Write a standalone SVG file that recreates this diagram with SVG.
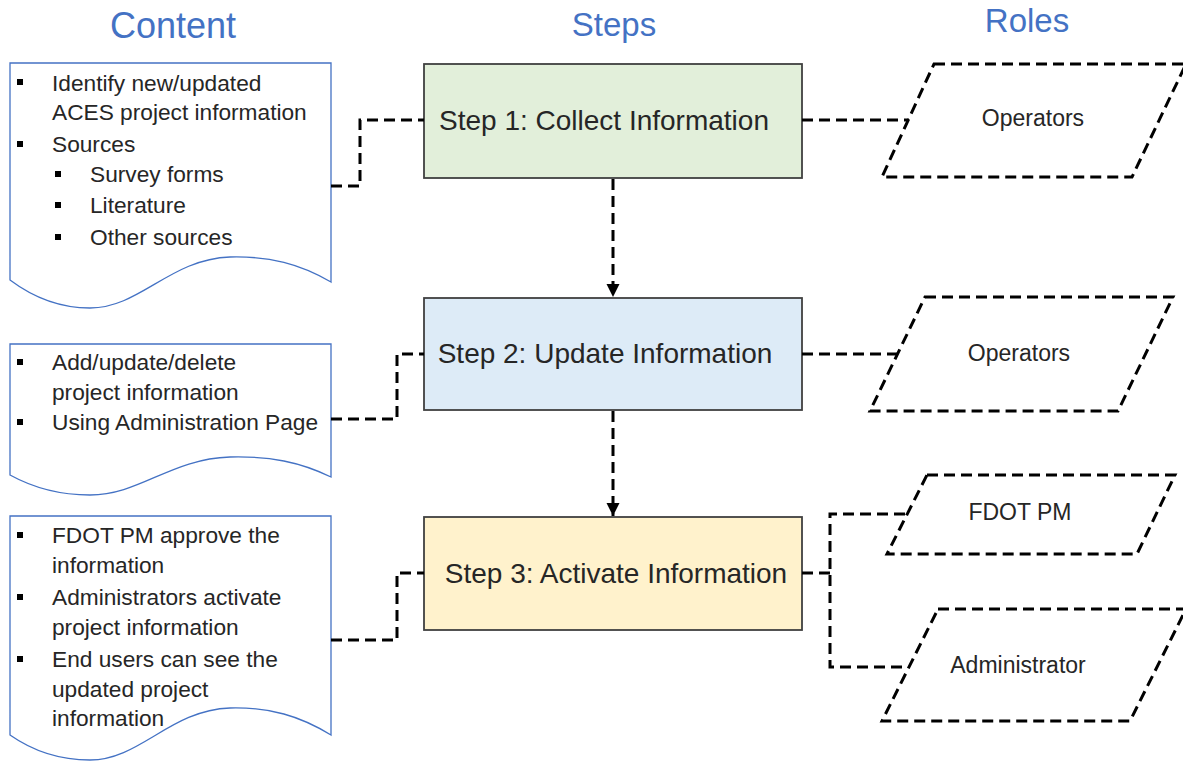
<svg xmlns="http://www.w3.org/2000/svg" width="1183" height="761" viewBox="0 0 1183 761">
<style>
.hdr{font-family:"Liberation Sans",Arial,sans-serif;font-size:33px;fill:#4472C4;text-anchor:middle}
.doc{fill:#fff;stroke:#4472C4;stroke-width:1.3}
.btxt{font-family:"Liberation Sans",Arial,sans-serif;font-size:22.7px;fill:#262626}
.bul{fill:#000}
.step{stroke:#404040;stroke-width:1.8}
.stxt{font-family:"Liberation Sans",Arial,sans-serif;font-size:28px;fill:#262626;text-anchor:middle}
.role{fill:#fff;stroke:#000;stroke-width:3;stroke-dasharray:11 6}
.rtxt{font-family:"Liberation Sans",Arial,sans-serif;font-size:23px;fill:#262626;text-anchor:middle}
.con{fill:none;stroke:#000;stroke-width:3;stroke-dasharray:11 6}
</style>
<defs>
<marker id="arr" viewBox="0 0 10 10" refX="10" refY="5" markerWidth="4.5" markerHeight="5" orient="auto" markerUnits="strokeWidth">
<path d="M0,0 L10,5 L0,10 Z" fill="#000"/>
</marker>
</defs>
<rect width="1183" height="761" fill="#fff"/>

<g id="headers">
<text class="hdr" x="173" y="38" style="font-size:36px">Content</text>
<text class="hdr" x="614" y="36">Steps</text>
<text class="hdr" x="1027" y="32">Roles</text>
</g>

<g id="content1">
<path class="doc" d="M10,63 H331 V282 C300,264 270,256 230,257 C170,259 140,308 90,308 C55,308 30,295 10,280 Z"/>
<rect class="bul" x="17" y="79" width="6" height="6"/>
<text class="btxt" x="52" y="91">Identify new/updated</text>
<text class="btxt" x="52" y="120">ACES project information</text>
<rect class="bul" x="17" y="141" width="6" height="6"/>
<text class="btxt" x="52" y="152">Sources</text>
<rect class="bul" x="55" y="171" width="6" height="6"/>
<text class="btxt" x="90" y="182">Survey forms</text>
<rect class="bul" x="55" y="202" width="6" height="6"/>
<text class="btxt" x="90" y="213">Literature</text>
<rect class="bul" x="55" y="234" width="6" height="6"/>
<text class="btxt" x="90" y="245">Other sources</text>
</g>

<g id="content2">
<path class="doc" d="M10,344 H331 V477 C300,462 270,456 230,457 C170,459 140,495 90,495 C55,495 30,486 10,475 Z"/>
<rect class="bul" x="17" y="359" width="6" height="6"/>
<text class="btxt" x="52" y="370">Add/update/delete</text>
<text class="btxt" x="52" y="400">project information</text>
<rect class="bul" x="17" y="419" width="6" height="6"/>
<text class="btxt" x="52" y="430">Using Administration Page</text>
</g>

<g id="content3">
<path class="doc" d="M10,516 H331 V735 C300,716 270,707 230,708 C170,710 140,760 90,760 C55,760 30,749 10,735 Z"/>
<rect class="bul" x="17" y="532" width="6" height="6"/>
<text class="btxt" x="52" y="543">FDOT PM approve the</text>
<text class="btxt" x="52" y="573">information</text>
<rect class="bul" x="17" y="594" width="6" height="6"/>
<text class="btxt" x="52" y="605">Administrators activate</text>
<text class="btxt" x="52" y="635">project information</text>
<rect class="bul" x="17" y="656" width="6" height="6"/>
<text class="btxt" x="52" y="667">End users can see the</text>
<text class="btxt" x="52" y="697">updated project</text>
<text class="btxt" x="52" y="726">information</text>
</g>

<g id="step1">
<rect class="step" x="424" y="64" width="378" height="114" fill="#E2EFDA"/>
<text class="stxt" x="604" y="130">Step 1: Collect Information</text>
</g>
<g id="step2">
<rect class="step" x="424" y="298" width="378" height="112" fill="#DDEBF7"/>
<text class="stxt" x="605" y="363">Step 2: Update Information</text>
</g>
<g id="step3">
<rect class="step" x="424" y="517" width="378" height="113" fill="#FFF2CC"/>
<text class="stxt" x="616" y="583">Step 3: Activate Information</text>
</g>

<g id="role1">
<path class="role" d="M934,64 L1186,64 L1132,177 L882,177 Z"/>
<text class="rtxt" x="1033" y="126">Operators</text>
</g>
<g id="role2">
<path class="role" d="M925,297 L1173,297 L1118,411 L870,411 Z"/>
<text class="rtxt" x="1019" y="361">Operators</text>
</g>
<g id="role3">
<path class="role" d="M927,475 L1175,475 L1137,554 L887,554 Z"/>
<text class="rtxt" x="1020" y="520">FDOT PM</text>
</g>
<g id="role4">
<path class="role" d="M938,609 L1186,609 L1130,721 L882,721 Z"/>
<text class="rtxt" x="1018" y="673">Administrator</text>
</g>

<g id="connectors">
<path class="con" d="M613,179 V297" marker-end="url(#arr)"/>
<path class="con" d="M613,411 V516" marker-end="url(#arr)"/>
<path class="con" d="M331,186 H360 V120 H424"/>
<path class="con" d="M331,419 H397 V354 H424"/>
<path class="con" d="M331,640 H397 V573 H424"/>
<path class="con" d="M802,120 H909"/>
<path class="con" d="M802,354 H897"/>
<path class="con" d="M802,573 H830"/>
<path class="con" d="M905,514 H830 V667 H908"/>
</g>
</svg>
